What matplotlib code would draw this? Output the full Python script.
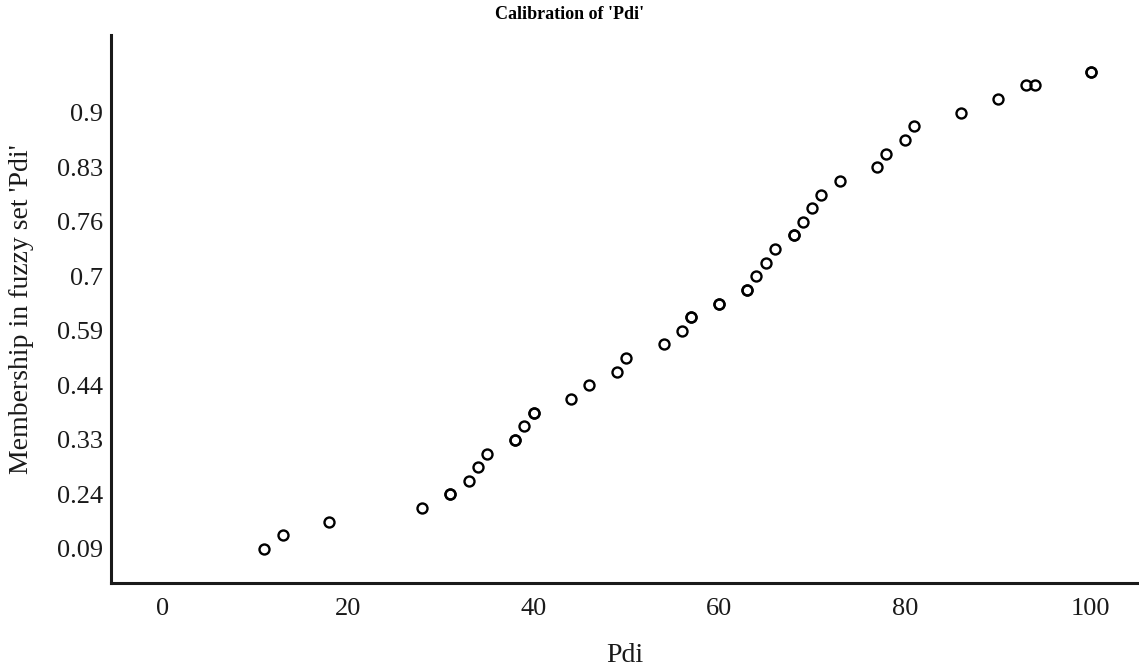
import matplotlib
matplotlib.use("Agg")
import matplotlib.pyplot as plt

plt.rcParams["font.family"] = ["Liberation Serif", "DejaVu Serif"]

# raw Pdi scores, one entry per case (repeated cases are listed twice)
pdi = [11, 13, 18, 28, 31, 31, 33, 34, 35, 38, 38, 39, 40, 40, 44, 46, 49, 50,
       54, 56, 57, 57, 60, 60, 63, 63, 64, 65, 66, 68, 68, 69, 70, 71, 73, 77,
       78, 80, 81, 86, 90, 93, 94, 100, 100]
# rank of each case's membership score among the distinct calibrated values
membership_rank = [1, 2, 3, 4, 5, 5, 6, 7, 8, 9, 9, 10, 11, 11, 12, 13, 14, 15,
                   16, 17, 18, 18, 19, 19, 20, 20, 21, 22, 23, 24, 24, 25, 26, 27, 28, 29,
                   30, 31, 32, 33, 34, 35, 35, 36, 36]

# every fourth membership level is labelled on the axis
label_ranks = [1, 5, 9, 13, 17, 21, 25, 29, 33]
label_text = ["0.09", "0.24", "0.33", "0.44", "0.59", "0.7", "0.76", "0.83", "0.9"]
x_ticks = [0, 20, 40, 60, 80, 100]

fig = plt.figure(figsize=(11.39, 6.71), dpi=100)
ax = fig.add_axes([0.0975, 0.1311, 0.9025, 0.8167])

ax.plot(pdi, membership_rank, linestyle="none", marker="o", ms=7.2,
        mfc="none", mec="black", mew=1.7)

ax.set_xlim(-5.5, 105.2)
ax.set_ylim(-1.5, 38.7)
ax.set_xticks(x_ticks)
ax.set_yticks(label_ranks)
ax.set_yticklabels(label_text)
ax.tick_params(axis="both", length=0, labelsize=19, colors="#1a1a1a")
ax.tick_params(axis="y", pad=6)
ax.tick_params(axis="x", pad=11)

for side in ("top", "right"):
    ax.spines[side].set_visible(False)
for side in ("left", "bottom"):
    ax.spines[side].set_linewidth(2.2)
    ax.spines[side].set_color("#1a1a1a")

ax.set_xlabel("Pdi", fontsize=20, labelpad=16, color="#1a1a1a")
ax.set_ylabel("Membership in fuzzy set 'Pdi'", fontsize=20, labelpad=16,
              color="#1a1a1a")
fig.text(0.5, 0.978, "Calibration of 'Pdi'", ha="center", va="center",
         fontsize=13, fontweight="bold")

fig.savefig("out.png", dpi=100)
